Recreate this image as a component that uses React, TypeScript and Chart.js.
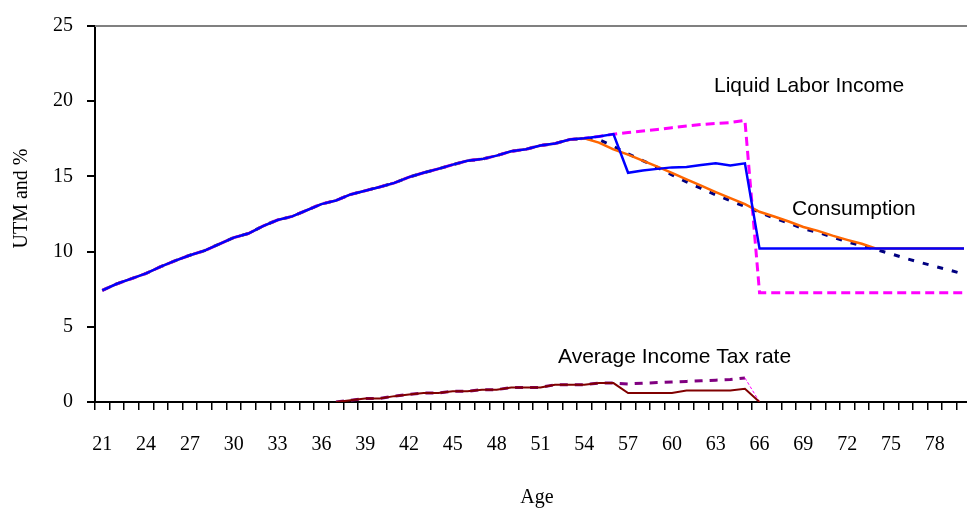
import React, { useEffect, useRef } from "react";
import { Chart, registerables } from "chart.js";

Chart.register(...registerables);

const ages = [
  21, 22, 23, 24, 25, 26, 27, 28, 29, 30, 31, 32, 33, 34, 35, 36, 37, 38, 39, 40,
  41, 42, 43, 44, 45, 46, 47, 48, 49, 50, 51, 52, 53, 54, 55, 56, 57, 58, 59, 60,
  61, 62, 63, 64, 65, 66, 67, 68, 69, 70, 71, 72, 73, 74, 75, 76, 77, 78, 79, 80,
];

// Labor income (blue, solid)
const laborIncome = [
  7.42, 7.86, 8.2, 8.55, 9.0, 9.4, 9.76, 10.06, 10.5, 10.93, 11.2, 11.7, 12.1, 12.34, 12.75, 13.16, 13.4, 13.8, 14.05, 14.3,
  14.57, 14.95, 15.24, 15.5, 15.78, 16.04, 16.15, 16.38, 16.67, 16.8, 17.06, 17.19, 17.45, 17.53, 17.66, 17.81, 15.24, 15.39, 15.5, 15.6,
  15.63, 15.76, 15.87, 15.73, 15.87, 10.2, 10.2, 10.2, 10.2, 10.2, 10.2, 10.2, 10.2, 10.2, 10.2, 10.2, 10.2, 10.2, 10.2, 10.2,
];

// Liquid labor income (magenta, dashed)
const liquidLaborIncome = [
  7.42, 7.86, 8.2, 8.55, 9.0, 9.4, 9.76, 10.06, 10.5, 10.93, 11.2, 11.7, 12.1, 12.34, 12.75, 13.16, 13.4, 13.8, 14.05, 14.3,
  14.57, 14.95, 15.24, 15.5, 15.78, 16.04, 16.15, 16.38, 16.67, 16.8, 17.06, 17.19, 17.45, 17.53, 17.66, 17.81, 17.92, 18.02, 18.12, 18.24,
  18.35, 18.45, 18.52, 18.58, 18.72, 7.27, 7.27, 7.27, 7.27, 7.27, 7.27, 7.27, 7.27, 7.27, 7.27, 7.27, 7.27, 7.27, 7.27, 7.27,
];

// Consumption (orange, solid)
const consumption = [
  7.42, 7.86, 8.2, 8.55, 9.0, 9.4, 9.76, 10.06, 10.5, 10.93, 11.2, 11.7, 12.1, 12.34, 12.75, 13.16, 13.4, 13.8, 14.05, 14.3,
  14.57, 14.95, 15.24, 15.5, 15.78, 16.04, 16.15, 16.38, 16.67, 16.8, 17.06, 17.19, 17.45, 17.53, 17.25, 16.8, 16.45, 16.05, 15.65, 15.24,
  14.8, 14.38, 13.96, 13.56, 13.16, 12.65, 12.33, 12.0, 11.64, 11.38, 11.06, 10.78, 10.52, 10.2, 10.2, 10.2, 10.2, 10.2, 10.2, 10.2,
];

// Alternative consumption (navy, dashed)
const consumptionAlt = [
  7.42, 7.86, 8.2, 8.55, 9.0, 9.4, 9.76, 10.06, 10.5, 10.93, 11.2, 11.7, 12.1, 12.34, 12.75, 13.16, 13.4, 13.8, 14.05, 14.3,
  14.57, 14.95, 15.24, 15.5, 15.78, 16.04, 16.15, 16.38, 16.67, 16.8, 17.06, 17.19, 17.45, 17.53, 17.45, 17.0, 16.5, 16.05, 15.6, 15.1,
  14.63, 14.2, 13.77, 13.38, 13.0, 12.62, 12.22, 11.9, 11.52, 11.28, 10.97, 10.65, 10.4, 10.13, 9.85, 9.55, 9.28, 9.02, 8.77, 8.5,
];

// Average income tax rate (dark red, solid)
const taxRate = [
  null, null, null, null, null, null, null, null, null, null, null, null, null, null, null, null, 0, 0.11, 0.24, 0.24,
  0.39, 0.5, 0.6, 0.6, 0.71, 0.71, 0.82, 0.82, 0.97, 0.97, 0.97, 1.15, 1.15, 1.15, 1.26, 1.26, 0.6, 0.6, 0.6, 0.6,
  0.76, 0.76, 0.76, 0.76, 0.88, 0, null, null, null, null, null, null, null, null, null, null, null, null, null, null,
];

// Alternative average income tax rate (purple, dashed)
const taxRateAlt = [
  null, null, null, null, null, null, null, null, null, null, null, null, null, null, null, null, 0, 0.11, 0.24, 0.24,
  0.39, 0.5, 0.6, 0.6, 0.71, 0.71, 0.82, 0.82, 0.97, 0.97, 0.97, 1.15, 1.15, 1.15, 1.26, 1.26, 1.2, 1.25, 1.29, 1.33,
  1.37, 1.41, 1.45, 1.49, 1.6, 0, null, null, null, null, null, null, null, null, null, null, null, null, null, null,
];

const yTicks = [0, 5, 10, 15, 20, 25];

const annotations = [
  { text: "Liquid Labor Income", x: 714, y: 92 },
  { text: "Consumption", x: 792, y: 215 },
  { text: "Average Income Tax rate", x: 558, y: 363 },
];

const retireIdx = ages.indexOf(65);

const textPlugin = {
  id: "textPlugin",
  beforeDatasetsDraw(chart: any) {
    const { ctx, chartArea } = chart;
    ctx.save();
    ctx.strokeStyle = "#808080";
    ctx.lineWidth = 2;
    ctx.beginPath();
    ctx.moveTo(chartArea.left, chartArea.top);
    ctx.lineTo(chartArea.right + 20, chartArea.top);
    ctx.stroke();
    ctx.restore();
  },
  afterDraw(chart: any) {
    const { ctx } = chart;
    ctx.save();
    ctx.fillStyle = "#000";
    ctx.font = '21px "Liberation Sans", Arial, sans-serif';
    ctx.textAlign = "left";
    ctx.textBaseline = "alphabetic";
    annotations.forEach((a) => ctx.fillText(a.text, a.x, a.y));
    ctx.font = '20px "Liberation Serif", "Times New Roman", serif';
    ctx.textAlign = "center";
    ctx.fillText("Age", 537, 502.5);
    ctx.translate(27, 198.5);
    ctx.rotate(-Math.PI / 2);
    ctx.fillText("UTM and %", 0, 0);
    ctx.restore();
  },
};

export default function App() {
  const canvasRef = useRef<HTMLCanvasElement | null>(null);

  useEffect(() => {
    if (!canvasRef.current) return;
    const tickFont = { family: '"Liberation Serif", "Times New Roman", serif', size: 20 };
    const chart = new Chart(canvasRef.current, {
      type: "line",
      data: {
        labels: ages.map(String),
        // first dataset is drawn on top
        datasets: [
          {
            label: "Average Income Tax rate",
            data: taxRate,
            borderColor: "#800000",
            borderWidth: 2,
          },
          {
            label: "Average Income Tax rate (alt)",
            data: taxRateAlt,
            borderColor: "#800080",
            borderWidth: 3,
            borderDash: [8, 7],
            segment: {
              borderColor: (c: any) => (c.p0DataIndex === retireIdx ? "#FF00FF" : undefined),
              borderWidth: (c: any) => (c.p0DataIndex === retireIdx ? 1 : undefined),
              borderDash: (c: any) => (c.p0DataIndex === retireIdx ? [3, 2] : undefined),
            },
          },
          {
            label: "Labor Income",
            data: laborIncome,
            borderColor: "#0000FF",
            borderWidth: 2.5,
          },
          {
            label: "Consumption",
            data: consumption,
            borderColor: "#FF6600",
            borderWidth: 2.5,
          },
          {
            label: "Liquid Labor Income",
            data: liquidLaborIncome,
            borderColor: "#FF00FF",
            borderWidth: 3,
            borderDash: [9, 5],
          },
          {
            label: "Consumption (alt)",
            data: consumptionAlt,
            borderColor: "#000080",
            borderWidth: 3,
            borderDash: [6, 9],
          },
        ],
      },
      options: {
        responsive: false,
        animation: false,
        layout: { padding: { left: 0, top: 17, right: 0, bottom: 0 } },
        elements: {
          point: { radius: 0, hoverRadius: 0 },
          line: { tension: 0, borderCapStyle: "butt", fill: false },
        },
        plugins: {
          legend: { display: false },
          tooltip: { enabled: false },
          title: { display: false },
        },
        scales: {
          x: {
            type: "category",
            offset: true,
            grid: {
              offset: true,
              drawOnChartArea: false,
              drawTicks: true,
              tickLength: 8,
              color: "#000",
              lineWidth: 1.5,
            },
            border: { display: true, color: "#000", width: 2 },
            ticks: {
              autoSkip: false,
              maxRotation: 0,
              minRotation: 0,
              padding: 23,
              color: "#000",
              font: tickFont,
              callback: (_v: any, i: number) => (i % 3 === 0 ? String(ages[i]) : ""),
            },
            afterFit: (scale: any) => {
              scale.height = 108;
            },
          },
          y: {
            type: "linear",
            min: 0,
            max: 25,
            afterBuildTicks: (scale: any) => {
              scale.ticks = yTicks.map((v) => ({ value: v }));
            },
            grid: {
              drawOnChartArea: false,
              drawTicks: true,
              tickLength: 8,
              color: "#000",
              lineWidth: 2,
            },
            border: { display: true, color: "#000", width: 2 },
            ticks: {
              padding: 14,
              color: "#000",
              font: tickFont,
            },
            afterFit: (scale: any) => {
              scale.width = 95;
            },
          },
        },
      },
      plugins: [textPlugin],
    });
    return () => chart.destroy();
  }, []);

  return (
    <div
      style={{
        position: "fixed",
        left: 0,
        top: 0,
        width: 967,
        height: 510,
        overflow: "hidden",
        background: "#fff",
      }}
    >
      <canvas ref={canvasRef} width={987} height={510} style={{ display: "block" }} />
    </div>
  );
}
